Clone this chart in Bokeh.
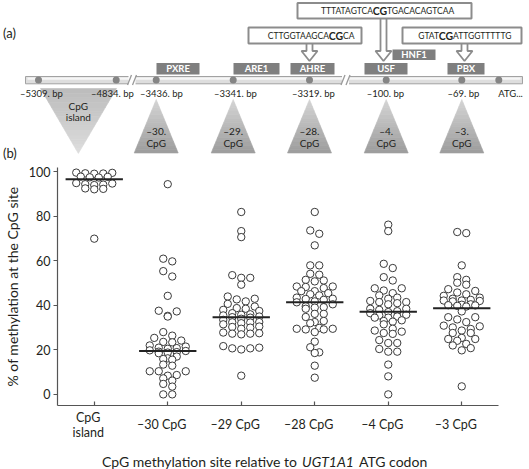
import numpy as np
from bokeh.plotting import figure
from bokeh.models import Range1d, FixedTicker
from bokeh.embed import file_html
from bokeh.resources import INLINE
from bokeh.core.properties import value

FONT = "Lato"
TXT = "#231f20"

# ------------------------------------------------------------------ data (b)
categories = ["CpG island", "–30 CpG", "–29 CpG", "–28 CpG", "–4 CpG", "–3 CpG"]
cat_label_lines = [["CpG", "island"], ["–30 CpG"], ["–29 CpG"], ["–28 CpG"],
                   ["–4 CpG"], ["–3 CpG"]]
y_ticks = [0, 20, 40, 60, 80, 100]

cpg_island = [99.7, 99.6, 99.4, 99.3, 99.2, 97.9, 97.8, 97.6, 97.5,
              95.0, 94.8, 94.5, 94.3, 94.1, 92.6, 92.4, 92.2, 70.0]
cpg_30 = [94.5, 61.0, 59.8, 55.4, 53.0, 44.3, 37.6, 37.3, 35.3, 35.0, 28.0,
          26.4, 25.4, 24.2, 23.6, 23.4, 22.0, 21.5, 21.0, 20.8, 20.5, 19.8,
          19.5, 19.2, 19.0, 18.8, 18.5, 17.0, 16.2, 15.9, 15.6, 13.4, 12.9,
          10.4, 10.4, 10.4, 8.7, 8.4, 7.2, 6.2, 4.7, 3.5, 0.0, 0.0]
cpg_29 = [82.0, 73.4, 70.7, 53.6, 52.4, 52.4, 49.3, 44.0, 43.0, 42.7, 41.8,
          40.7, 39.5, 38.8, 38.5, 38.0, 37.5, 36.5, 36.0, 35.8, 35.5, 35.0,
          34.7, 34.5, 34.0, 33.5, 32.5, 32.4, 32.3, 32.0, 31.5, 30.5, 30.3,
          30.0, 29.5, 27.8, 27.3, 27.0, 27.3, 27.5, 21.7, 21.0, 20.7, 20.7,
          20.2, 8.4]
cpg_28 = [82.0, 73.7, 72.2, 67.0, 58.0, 58.0, 54.2, 53.8, 51.5, 51.2, 50.8,
          48.5, 48.5, 48.3, 47.8, 46.4, 46.4, 45.5, 45.0, 44.5, 43.5, 43.0,
          42.9, 42.5, 41.8, 41.4, 40.5, 39.6, 39.2, 39.0, 38.5, 36.2, 36.2,
          34.8, 33.0, 32.5, 32.0, 29.9, 29.5, 29.2, 29.2, 29.5, 28.0, 23.7,
          21.2, 18.9, 18.6, 12.9, 7.5]
cpg_4 = [76.3, 73.4, 58.7, 56.8, 52.7, 51.2, 47.7, 47.7, 46.7, 45.5, 44.5,
         43.5, 43.0, 42.0, 41.5, 41.5, 41.0, 40.5, 38.5, 38.5, 38.0, 37.4,
         37.0, 36.5, 35.8, 35.5, 35.0, 34.5, 34.5, 33.3, 33.0, 32.7, 31.5,
         29.5, 28.7, 28.2, 27.6, 27.2, 24.4, 23.1, 23.1, 20.4, 19.2, 19.2,
         13.4, 8.1, 0.0]
cpg_3 = [73.0, 72.5, 58.0, 52.7, 51.5, 50.2, 49.3, 47.3, 46.5, 45.8, 45.0,
         44.3, 43.5, 43.0, 42.5, 42.2, 42.2, 42.0, 41.8, 40.5, 40.3, 40.1,
         40.0, 39.8, 39.5, 37.3, 34.7, 34.7, 33.7, 32.5, 30.9, 30.6, 30.1,
         29.4, 28.7, 27.6, 27.6, 25.4, 24.9, 24.9, 24.1, 22.7, 22.0, 20.8,
         19.8, 3.6]
medians = [96.7, 19.5, 34.7, 41.4, 37.1, 38.7]
groups = [cpg_island, cpg_30, cpg_29, cpg_28, cpg_4, cpg_3]

# ------------------------------------------------------------------ data (a)
site_labels = ["–5309. bp", "–4834. bp", "–3436. bp", "–3341. bp",
               "–3319. bp", "–100. bp", "–69. bp", "ATG..."]
element_names = ["PXRE", "ARE1", "AHRE", "USF", "HNF1", "PBX"]
cpg_site_names = ["–30.", "–29.", "–28.", "–4.", "–3."]
seq_left = ["TTTATAGTCA", "CTTGGTAAGCA", "GTAT"]
seq_core = ["CG", "CG", "CG"]
seq_right = ["TGACACAGTCAA", "CA", "ATTGGTTTTTG"]

# layout of the schematic (pixel-like units of the drawing)
site_x = [38, 115.7, 155.7, 232.7, 309, 385.7, 461.3, 498.3]
site_label_x = [41, 112, 161, 235, 313, 385, 463, 510]
element_x = [177.5, 256, 312, 385.5, 413.5, 465.5]
element_w = [43, 46, 44, 43, 43, 37]
element_row = [0, 0, 0, 0, 1, 0]
seq_box_l = [297, 248, 402]
seq_box_r = [471, 361, 521]
seq_box_t = [2.5, 27, 27]
seq_box_b = [18, 43, 43]
seq_core_x = [379.5, 335.5, 445.5]
arrow_x = [383, 309, 464]

W = 529

def txt(fig, x, y, t, size, align="center", color=TXT, style="normal"):
    fig.text(x=x, y=y, text=t, text_font=value(FONT), text_font_size=value(size),
             text_align=align, text_baseline="middle", text_color=color,
             text_font_style=style)

def bare(height):
    f = figure(width=W, height=height, x_range=Range1d(0, W), y_range=Range1d(height, 0),
               x_axis_type=None, y_axis_type=None, output_backend="svg",
               toolbar_location=None, min_border=0)
    f.outline_line_color = None
    f.grid.grid_line_color = None
    return f

# ================================================================== panel (a)
top = bare(160)
txt(top, [2.5], [32], ["(a)"], "13px", align="left")
txt(top, [2.5], [152.5], ["(b)"], "13px", align="left")

def bands(apex, bl, br, n, c0, c1):
    xs, ys, cols = [], [], []
    c0 = np.array(c0, float); c1 = np.array(c1, float)
    for k in range(n):
        t0, t1 = k / n, (k + 1) / n
        L = lambda t: (apex[0] + t * (bl[0] - apex[0]), apex[1] + t * (bl[1] - apex[1]))
        R = lambda t: (apex[0] + t * (br[0] - apex[0]), apex[1] + t * (br[1] - apex[1]))
        pts = [L(t0), R(t0), R(t1), L(t1)]
        xs.append([q[0] for q in pts]); ys.append([q[1] for q in pts])
        c = c0 + (c1 - c0) * (k + 0.5) / n
        cols.append("#%02x%02x%02x" % tuple(int(v) for v in c))
    return xs, ys, cols

isl_x = 0.5 * (site_x[0] + site_x[1]) + 1
ax, ay, acol = bands((isl_x, 153), (site_x[0] + 2, 88), (site_x[1] + 0.3, 88), 14,
                     (222, 222, 222), (188, 188, 188))
top.patches(ax, ay, fill_color=acol, line_color=acol, line_width=0.6)
txt(top, [isl_x], [105], ["CpG"], "10px")
txt(top, [isl_x], [116.5], ["island"], "10px")

for i, nm in enumerate(cpg_site_names):
    sx = site_x[2 + i]
    bx, by, bcol = bands((sx, 99), (sx - 22, 152.5), (sx + 22, 152.5), 14,
                         (214, 214, 214), (156, 156, 156))
    top.patches(bx, by, fill_color=bcol, line_color=bcol, line_width=0.6)
    txt(top, [sx], [130], [nm], "10px")
    txt(top, [sx], [142], ["CpG"], "10px")

# promoter bar
top.quad(left=[25], right=[522], top=[76], bottom=[83.3], fill_color="#dedede",
         line_color="#a2a2a2", line_width=1)
top.quad(left=[27], right=[520], top=[77], bottom=[79.2], fill_color="#f6f6f6",
         line_color=None)
for cx in [131.5, 345]:
    top.quad(left=[cx - 3.5], right=[cx + 3.5], top=[75], bottom=[84.5],
             fill_color="white", line_color=None)
    top.segment(x0=[cx - 4.5, cx + 0.5], y0=[84.5, 84.5], x1=[cx - 0.5, cx + 4.5],
                y1=[74.5, 74.5], line_color="#9a9a9a", line_width=1.3)
top.scatter(site_x, [79.5] * len(site_x), size=7, fill_color="#858585", line_color=None)
txt(top, site_label_x, [92.5] * len(site_label_x), site_labels, "9.5px")

# element boxes
row_t = [62.5, 49]
row_b = [74, 59.5]
el = [x - w / 2 for x, w in zip(element_x, element_w)]
er = [x + w / 2 for x, w in zip(element_x, element_w)]
top.quad(left=el, right=er, top=[row_t[r] for r in element_row],
         bottom=[row_b[r] for r in element_row], fill_color="#7f7f7f", line_color=None)
txt(top, element_x, [0.5 * (row_t[r] + row_b[r]) for r in element_row], element_names,
    "9.5px", color="white", style="bold")

# hollow arrows from the sequence boxes
axs, ays = [], []
for x, b in zip(arrow_x, seq_box_b):
    hs = 50.5
    axs.append([x - 3, x + 3, x + 3, x + 8, x, x - 8, x - 3])
    ays.append([b - 1, b - 1, hs, hs, 60.5, hs, hs])
top.patches(axs, ays, fill_color="white", line_color="#8c8c8c", line_width=1.8)

# sequence boxes
top.quad(left=seq_box_l, right=seq_box_r, top=seq_box_t, bottom=seq_box_b,
         fill_color="white", line_color="#8c8c8c", line_width=2)
sy = [0.5 * (t + b) for t, b in zip(seq_box_t, seq_box_b)]
txt(top, [x - 7 for x in seq_core_x], sy, seq_left, "8.5px", align="right")
txt(top, seq_core_x, sy, seq_core, "10.5px", style="bold")
txt(top, [x + 7 for x in seq_core_x], sy, seq_right, "8.5px", align="left")

# ================================================================== panel (b)
Y0, Y1 = -5, 102
FL = 51                      # left border of the scatter frame
FW, FH = 441, 238
NC = len(categories)
p = figure(frame_width=FW, frame_height=FH, x_range=Range1d(0, NC),
           y_range=Range1d(Y0, Y1), output_backend="svg", toolbar_location=None,
           min_border_left=FL, min_border_right=W - FL - FW, min_border_top=7,
           min_border_bottom=2)
p.outline_line_color = None
p.grid.grid_line_color = None

PX_CAT = FW / NC
D = 9.0

def swarm(vals, win=2.4, cap=5):
    order = sorted(range(len(vals)), key=lambda i: -vals[i])
    rows = []
    for idx in order:
        if rows and len(rows[-1]) < cap and vals[rows[-1][0]] - vals[idx] <= win:
            rows[-1].append(idx)
        else:
            rows.append([idx])
    offs = [0.0] * len(vals)
    for r in rows:
        n = len(r)
        slots = [(j - (n - 1) / 2) * D for j in range(n)]
        slots.sort(key=lambda s: (-abs(s), s))
        for idx, s in zip(r, slots):
            offs[idx] = s
    return offs

xs_all, ys_all = [], []
for i, vals in enumerate(groups):
    offs = swarm(vals)
    xs_all += [i + 0.5 + o / PX_CAT for o in offs]
    ys_all += list(vals)

p.scatter(xs_all, ys_all, size=7.4, fill_color="white", line_color="#3a3a3a",
          line_width=1)
p.segment(x0=[i + 0.5 - 0.39 for i in range(len(medians))], y0=medians,
          x1=[i + 0.5 + 0.39 for i in range(len(medians))], y1=medians,
          line_color="#222222", line_width=2)

p.yaxis.ticker = FixedTicker(ticks=y_ticks)
p.yaxis.axis_label = "% of methylation at the CpG site"
for ax_ in (p.xaxis, p.yaxis):
    ax_.axis_line_color = "#555555"
    ax_.axis_line_width = 1.2
    ax_.major_tick_line_color = "#555555"
    ax_.major_tick_line_width = 1.2
    ax_.minor_tick_line_color = None
    ax_.major_label_text_font = FONT
    ax_.major_label_text_font_size = "12.5px"
    ax_.major_label_text_color = TXT
    ax_.axis_label_text_font = FONT
    ax_.axis_label_text_font_size = "14px"
    ax_.axis_label_text_font_style = "normal"
    ax_.axis_label_text_color = TXT
p.yaxis.major_tick_out = 4
p.yaxis.major_tick_in = 0
p.yaxis.major_label_standoff = 3
p.yaxis.axis_label_standoff = 5
# category ticks; their labels are drawn (two-line) in the strip below
cat_ticks = [i + 0.5 for i in range(NC)]
p.xaxis.ticker = FixedTicker(ticks=cat_ticks)
p.xaxis.major_label_overrides = {t: "" for t in cat_ticks}
p.xaxis.major_label_text_font_size = "1px"
p.xaxis.major_tick_in = 4
p.xaxis.major_tick_out = 0
p.xaxis.major_label_standoff = 0

# ================================================================== x labels + title
low = bare(62)          # starts right under the scatter frame
cat_x = [FL + t * PX_CAT for t in cat_ticks]
LINE = 15.5
for cx, lines in zip(cat_x, cat_label_lines):
    n = len(lines)
    txt(low, [cx] * n, [17.3 + (j - (n - 1) / 2) * LINE for j in range(n)], lines,
        "12.5px")

gx = 327.5
ty = 54
txt(low, [gx - 31], [ty], ["CpG methylation site relative to"], "14px", align="right")
txt(low, [gx], [ty], ["UGT1A1"], "14px", style="italic")
txt(low, [gx + 31], [ty], ["ATG codon"], "14px", align="left")

open("out.html", "w").write(file_html([top, p, low], INLINE))
